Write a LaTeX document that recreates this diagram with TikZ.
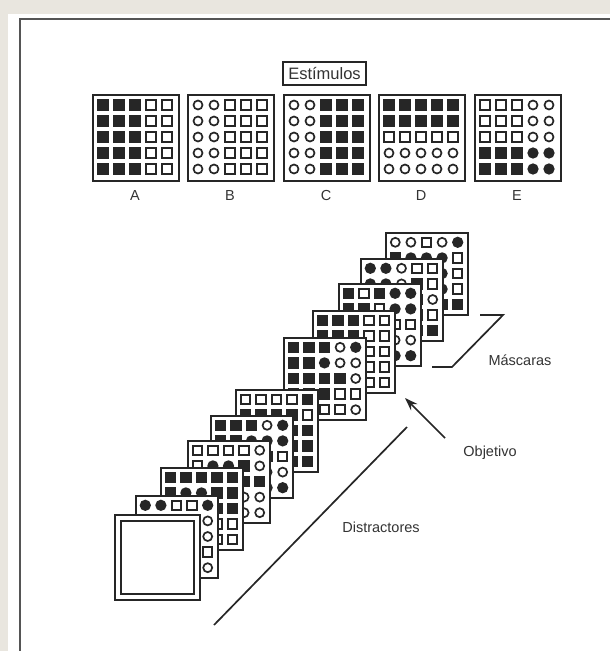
\documentclass[tikz,border=0pt]{standalone}
\usepackage{fontspec}
\setmainfont{Liberation Sans}
\usetikzlibrary{arrows.meta}
\definecolor{ink}{HTML}{262626}
\definecolor{bgc}{HTML}{E9E6DF}
\definecolor{framec}{HTML}{555555}
\definecolor{txt}{HTML}{333333}
\tikzset{
  symS/.style={rectangle,fill=ink,draw=none,minimum size=11.5,inner sep=0},
  syms/.style={rectangle,draw=ink,line width=2,minimum size=9.3,inner sep=0},
  symc/.style={circle,draw=ink,line width=1.7,minimum size=9,inner sep=0},
  symC/.style={circle,fill=ink,draw=none,minimum size=11.3,inner sep=0},
  stimbox/.style={rectangle,draw=ink,line width=1.6,fill=white,minimum size=86,inner sep=0,anchor=north west},
  cardbox/.style={rectangle,draw=ink,line width=2,fill=white,minimum size=82,inner sep=0,anchor=north west},
  lbl/.style={text=txt,font=\fontsize{14.5}{16}\selectfont,inner sep=0},
  conn/.style={draw=ink,line width=1.7},
}
\newcommand{\symgrid}[6]{%
  \foreach \rw [count=\r] in {#6} {
    \foreach \t [count=\c] in \rw {
      \edef\symstyle{sym\t}
      \node[\symstyle] (#1-\r-\c) at ({#2+#4+(\c-1)*#5},{#3+#4+(\r-1)*#5}) {};
    }
  }
}
% stimulus box: name, left, top, rows
\newcommand{\stim}[4]{%
  \node[stimbox] (#1) at (#2,#3) {};
  \symgrid{#1}{#2}{#3}{11}{16}{#4}
}
% card: name, left, top, rows
\newcommand{\card}[4]{%
  \node[cardbox] (#1) at (#2,#3) {};
  \symgrid{#1}{#2}{#3}{10.3}{15.6}{#4}
}
\begin{document}
\begin{tikzpicture}[x=1pt,y=-1pt]
\useasboundingbox (0,0) rectangle (610,651);
\fill[bgc] (0,0) rectangle (610,651);
\fill[white] (8,14) rectangle (610,651);
\draw[framec,line width=2] (20,651) -- (20,19) -- (610,19);

% Title
\node[rectangle,draw=ink,line width=1.6,minimum width=83,minimum height=23,inner sep=0,text=txt,font=\fontsize{16.5}{18}\selectfont] (title) at (324.5,73.5) {Estímulos};

% Stimuli
\stim{A}{92}{94}{{S,S,S,s,s},{S,S,S,s,s},{S,S,S,s,s},{S,S,S,s,s},{S,S,S,s,s}}
\stim{B}{187}{94}{{c,c,s,s,s},{c,c,s,s,s},{c,c,s,s,s},{c,c,s,s,s},{c,c,s,s,s}}
\stim{C}{283}{94}{{c,c,S,S,S},{c,c,S,S,S},{c,c,S,S,S},{c,c,S,S,S},{c,c,S,S,S}}
\stim{D}{378}{94}{{S,S,S,S,S},{S,S,S,S,S},{s,s,s,s,s},{c,c,c,c,c},{c,c,c,c,c}}
\stim{E}{474}{94}{{s,s,s,c,c},{s,s,s,c,c},{s,s,s,c,c},{S,S,S,C,C},{S,S,S,C,C}}
\node[lbl] (labA) at (135,196) {A};
\node[lbl] (labB) at (230,196) {B};
\node[lbl] (labC) at (326,196) {C};
\node[lbl] (labD) at (421,196) {D};
\node[lbl] (labE) at (517,196) {E};

% Stack (back to front)
\card{m4}{385}{232}{{c,c,s,c,C},{S,C,C,C,s},{S,S,C,C,s},{C,S,C,C,s},{S,S,S,S,S}}
\card{m3}{360}{258}{{C,C,c,s,s},{C,C,c,S,s},{S,S,S,S,c},{S,S,S,S,s},{S,S,S,S,S}}
\card{m2}{338}{283}{{S,s,S,C,C},{S,S,s,C,C},{S,S,S,s,s},{S,S,S,c,c},{S,S,S,C,C}}
\card{m1}{312}{310}{{S,S,S,s,s},{S,S,S,s,s},{S,S,S,s,s},{S,S,S,s,s},{S,S,S,s,s}}
\card{tg}{283}{337}{{S,S,S,c,C},{S,S,C,c,c},{S,S,S,S,c},{S,S,S,s,s},{s,s,s,s,c}}
\card{d5}{235}{389}{{s,s,s,s,S},{S,S,S,S,s},{S,S,S,S,S},{S,S,S,S,S},{S,S,S,S,S}}
\card{d4}{210}{415}{{S,S,S,c,C},{S,S,C,C,C},{S,S,S,s,s},{S,S,S,c,c},{S,S,S,C,C}}
\card{d3}{187}{440}{{s,s,s,s,c},{s,C,C,S,c},{s,s,S,S,S},{s,s,s,c,c},{s,s,s,c,c}}
\card{d2}{160}{467}{{S,S,S,S,S},{S,C,C,S,S},{S,S,S,S,S},{S,S,S,s,s},{S,S,S,s,s}}
\card{d1}{135}{495}{{C,C,s,s,C},{C,C,C,C,c},{s,s,s,s,c},{s,s,s,s,s},{s,s,s,s,c}}
\node[cardbox,minimum size=79,double=white,double distance=4,line width=1.8] (blank) at (117,517) {};

% Annotations
\coordinate (mk1) at (432,367);
\coordinate (mk2) at (452,367);
\coordinate (mk3) at (503,315);
\coordinate (mk4) at (480,315);
\draw[conn] (mk1) -- (mk2) -- (mk3) -- (mk4);
\node[lbl] (mascaras) at (520,360) {Máscaras};

\coordinate (objtail) at (445,438);
\coordinate (objtip) at (405,398);
\draw[conn,-{Stealth[length=13,width=9]}] (objtail) -- (objtip);
\node[lbl] (objetivo) at (490,453) {Objetivo};

\coordinate (ds1) at (214,625);
\coordinate (ds2) at (407,427);
\draw[conn] (ds1) -- (ds2);
\node[lbl] (distractores) at (381,527) {Distractores};
\end{tikzpicture}
\end{document}
